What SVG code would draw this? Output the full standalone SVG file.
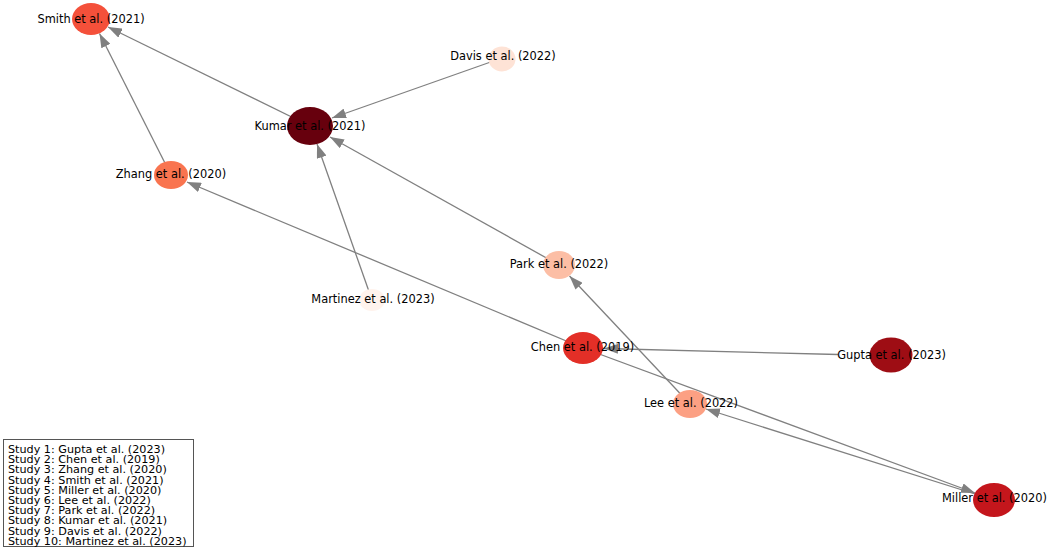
<svg xmlns="http://www.w3.org/2000/svg" width="1049" height="550" viewBox="0 0 1049 550">
<style>
.edge{stroke:#808080;stroke-width:1.3;fill:none;marker-end:url(#ah)}
.lbl{font-family:"DejaVu Sans",sans-serif;font-size:11.4px;fill:#000;text-anchor:middle}
.leg{font-family:"DejaVu Sans",sans-serif;font-size:11.2px;fill:#000}
</style>
<defs>
<marker id="ah" viewBox="0 0 14 10" refX="14" refY="5" markerWidth="14" markerHeight="10" markerUnits="userSpaceOnUse" orient="auto">
<path d="M0,0 L14,5 L0,10 z" fill="#808080"/>
</marker>
</defs>
<rect width="1049" height="550" fill="#ffffff"/>
<g id="connectors">
<line class="edge" x1="310" y1="126" x2="108" y2="27"/>
<line class="edge" x1="171" y1="175" x2="99.5" y2="33.5"/>
<line class="edge" x1="502" y1="58" x2="332" y2="118"/>
<line class="edge" x1="372" y1="300" x2="317" y2="144"/>
<line class="edge" x1="559" y1="265" x2="330" y2="137"/>
<line class="edge" x1="583" y1="348" x2="187" y2="182"/>
<line class="edge" x1="690" y1="404" x2="569.5" y2="276"/>
<line class="edge" x1="838" y1="354.5" x2="604" y2="348.5"/>
<line class="edge" x1="994" y1="500" x2="706" y2="409"/>
<line class="edge" x1="583" y1="348" x2="975" y2="493"/>
</g>
<g id="node-smith"><ellipse cx="91" cy="19" rx="19" ry="16" fill="#f4503a"/><text class="lbl" x="91" y="23">Smith et al. (2021)</text></g>
<g id="node-kumar"><ellipse cx="310" cy="126" rx="23" ry="19" fill="#67000d"/><text class="lbl" x="310" y="130">Kumar et al. (2021)</text></g>
<g id="node-davis"><ellipse cx="502" cy="59" rx="13.5" ry="12.5" fill="#fee3d6"/><text class="lbl" x="503" y="60">Davis et al. (2022)</text></g>
<g id="node-zhang"><ellipse cx="171" cy="175" rx="17" ry="14" fill="#f9744f"/><text class="lbl" x="171" y="178">Zhang et al. (2020)</text></g>
<g id="node-park"><ellipse cx="559" cy="265" rx="16" ry="14" fill="#fcbea5"/><text class="lbl" x="559" y="268">Park et al. (2022)</text></g>
<g id="node-martinez"><ellipse cx="372" cy="300" rx="13" ry="11" fill="#fff3ed"/><text class="lbl" x="373" y="303">Martinez et al. (2023)</text></g>
<g id="node-chen"><ellipse cx="583" cy="348" rx="20" ry="16" fill="#e32f27"/><text class="lbl" x="582.5" y="351">Chen et al. (2019)</text></g>
<g id="node-gupta"><ellipse cx="891" cy="355" rx="21.5" ry="17.5" fill="#9e0d14"/><text class="lbl" x="891.5" y="359">Gupta et al. (2023)</text></g>
<g id="node-lee"><ellipse cx="690" cy="404" rx="17" ry="14" fill="#fca083"/><text class="lbl" x="691" y="407">Lee et al. (2022)</text></g>
<g id="node-miller"><ellipse cx="994" cy="500" rx="21" ry="17" fill="#c4161c"/><text class="lbl" x="994.5" y="502">Miller et al. (2020)</text></g>
<g id="legend">
<rect x="3.5" y="439.5" width="190" height="107" fill="#ffffff" stroke="#555555" stroke-width="1"/>
<text class="leg" x="8" y="453">Study 1: Gupta et al. (2023)</text>
<text class="leg" x="8" y="463.2">Study 2: Chen et al. (2019)</text>
<text class="leg" x="8" y="473.4">Study 3: Zhang et al. (2020)</text>
<text class="leg" x="8" y="483.6">Study 4: Smith et al. (2021)</text>
<text class="leg" x="8" y="493.8">Study 5: Miller et al. (2020)</text>
<text class="leg" x="8" y="504">Study 6: Lee et al. (2022)</text>
<text class="leg" x="8" y="514.2">Study 7: Park et al. (2022)</text>
<text class="leg" x="8" y="524.4">Study 8: Kumar et al. (2021)</text>
<text class="leg" x="8" y="534.6">Study 9: Davis et al. (2022)</text>
<text class="leg" x="8" y="544.8">Study 10: Martinez et al. (2023)</text>
</g>
</svg>
